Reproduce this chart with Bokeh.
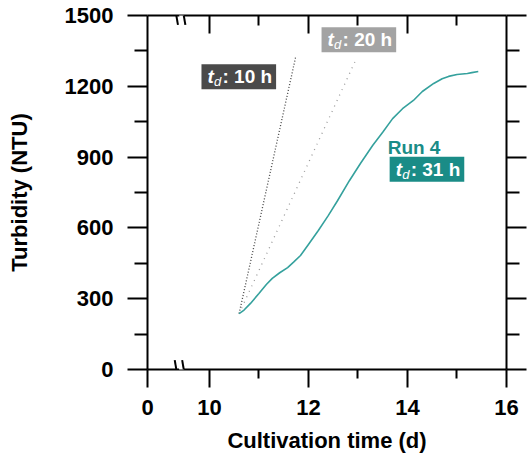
from bokeh.plotting import figure
from bokeh.models import (Range1d, LinearAxis, FixedTicker, Label, Arrow, PolyAnnotation)
from bokeh.embed import file_html
from bokeh.resources import INLINE

# ---- data ----
run4_time = [10.60, 10.70, 10.83, 11.00, 11.15, 11.27, 11.42, 11.58, 11.70, 11.84,
             12.00, 12.20, 12.40, 12.59, 12.83, 13.05, 13.30, 13.50, 13.70, 13.90,
             14.12, 14.30, 14.53, 14.70, 14.83, 15.00, 15.21, 15.30, 15.43]
run4_ntu = [237, 252, 280, 322, 360, 386, 410, 432, 455, 483,
            530, 589, 652, 716, 801, 873, 950, 1005, 1063, 1105,
            1140, 1178, 1212, 1232, 1242, 1250, 1254, 1258, 1263]
td10_time = [10.60, 11.74]
td10_ntu = [237, 1322]
td20_time = [10.60, 12.97]
td20_ntu = [237, 1318]

x_break_pos = 8.75           # axis position standing for day 0 (broken axis)
x_major = [x_break_pos, 10, 12, 14, 16]
x_minor = [11, 13, 15]
x_labels = {x_break_pos: "0"}
top_major = [10, 12, 14]
y_major = [0, 300, 600, 900, 1200, 1500]
y_minor = [150, 450, 750, 1050, 1350]

FONT = "Liberation Sans"
TEAL_LINE = "#35a19d"
TEAL = "#1a8c87"
DARK = "#4a4a4a"
LIGHT = "#a3a3a3"

p = figure(width=529, height=461, output_backend="svg", toolbar_location=None,
           x_range=Range1d(x_break_pos, 16), y_range=Range1d(0, 1500),
           x_axis_label="Cultivation time (d)", y_axis_label="Turbidity (NTU)",
           min_border_left=147, min_border_right=23, min_border_top=15, min_border_bottom=92)
p.grid.visible = False
p.outline_line_color = None
p.background_fill_color = "white"
p.border_fill_color = "white"

def style_axis(ax, tick_in, tick_out, minor_in, minor_out):
    ax.axis_line_width = 2
    ax.axis_line_color = "black"
    ax.major_tick_line_width = 2
    ax.minor_tick_line_width = 2
    ax.major_tick_in = tick_in
    ax.major_tick_out = tick_out
    ax.minor_tick_in = minor_in
    ax.minor_tick_out = minor_out
    ax.major_label_text_font = FONT
    ax.major_label_text_font_style = "bold"
    ax.major_label_text_font_size = "22px"
    ax.major_label_text_color = "black"
    ax.axis_label_text_font = FONT
    ax.axis_label_text_font_style = "bold"
    ax.axis_label_text_font_size = "22px"
    ax.axis_label_text_color = "black"

xax = p.xaxis[0]
xax.ticker = FixedTicker(ticks=x_major, minor_ticks=x_minor)
xax.major_label_overrides = x_labels
style_axis(xax, 0, 18, 0, 9)
xax.major_label_standoff = 12
xax.axis_label_standoff = 10

yax = p.yaxis[0]
yax.ticker = FixedTicker(ticks=y_major, minor_ticks=y_minor)
style_axis(yax, 0, 20, 0, 13)
yax.major_label_standoff = 14
yax.axis_label_standoff = 30

top = LinearAxis(ticker=FixedTicker(ticks=top_major, minor_ticks=x_minor))
style_axis(top, 18, 0, 10, 0)
top.major_label_overrides = {t: "" for t in top_major}
top.major_label_text_font_size = "0px"
top.major_label_standoff = 0
p.add_layout(top, "above")

right = LinearAxis(ticker=FixedTicker(ticks=y_major, minor_ticks=y_minor))
style_axis(right, 0, 20, 0, 13)
right.major_label_overrides = {t: "" for t in y_major}
right.major_label_text_font_size = "0px"
right.major_label_standoff = 0
p.add_layout(right, "right")

# doubling-time reference lines
p.line(td10_time, td10_ntu, line_color="#444444", line_width=1.3, line_dash="1 2")
p.line(td20_time, td20_ntu, line_color="#9a9a9a", line_width=1.3, line_dash="1 5")
# Run 4
p.line(run4_time, run4_ntu, line_color=TEAL_LINE, line_width=1.6)

# axis break marks (top and bottom x axes)
for yb in (1500, 0):
    p.add_layout(PolyAnnotation(xs=[9.36, 9.46, 9.52, 9.42], ys=[yb + 40, yb + 40, yb - 40, yb - 40],
                                fill_color="white", fill_alpha=1, line_color=None))
    for x0 in (9.30, 9.45):
        p.add_layout(Arrow(end=None, x_start=x0, y_start=yb + 40, x_end=x0 + 0.065, y_end=yb - 40,
                           line_color="black", line_width=2))

def td_label(x, y, rest, bg, fg):
    # padding order: (left, right, top, bottom); box left edge sits at the anchor
    p.add_layout(Label(x=x, y=y, text=rest, text_font=FONT, text_font_style="bold",
                       text_font_size="19px", text_color=fg, text_baseline="middle", text_align="left",
                       background_fill_color=bg, background_fill_alpha=1,
                       padding=(21, 4, 2, 2)))
    p.add_layout(Label(x=x, y=y, x_offset=6, text="t", text_font=FONT, text_font_style="bold italic",
                       text_font_size="19px", text_color=fg, text_baseline="middle", text_align="left"))
    p.add_layout(Label(x=x, y=y, x_offset=12.5, y_offset=-5, text="d", text_font=FONT,
                       text_font_style="italic", text_font_size="13px", text_color=fg,
                       text_baseline="middle", text_align="left"))

td_label(9.84, 1240, ": 10 h", DARK, "white")
td_label(12.265, 1397, ": 20 h", LIGHT, "white")
td_label(13.64, 848, ": 31 h", TEAL, "white")
p.add_layout(Label(x=13.60, y=940, text="Run 4", text_font=FONT, text_font_style="bold",
                   text_font_size="19px", text_color=TEAL, text_baseline="middle", text_align="left"))

open("out.html", "w").write(file_html(p, INLINE))
